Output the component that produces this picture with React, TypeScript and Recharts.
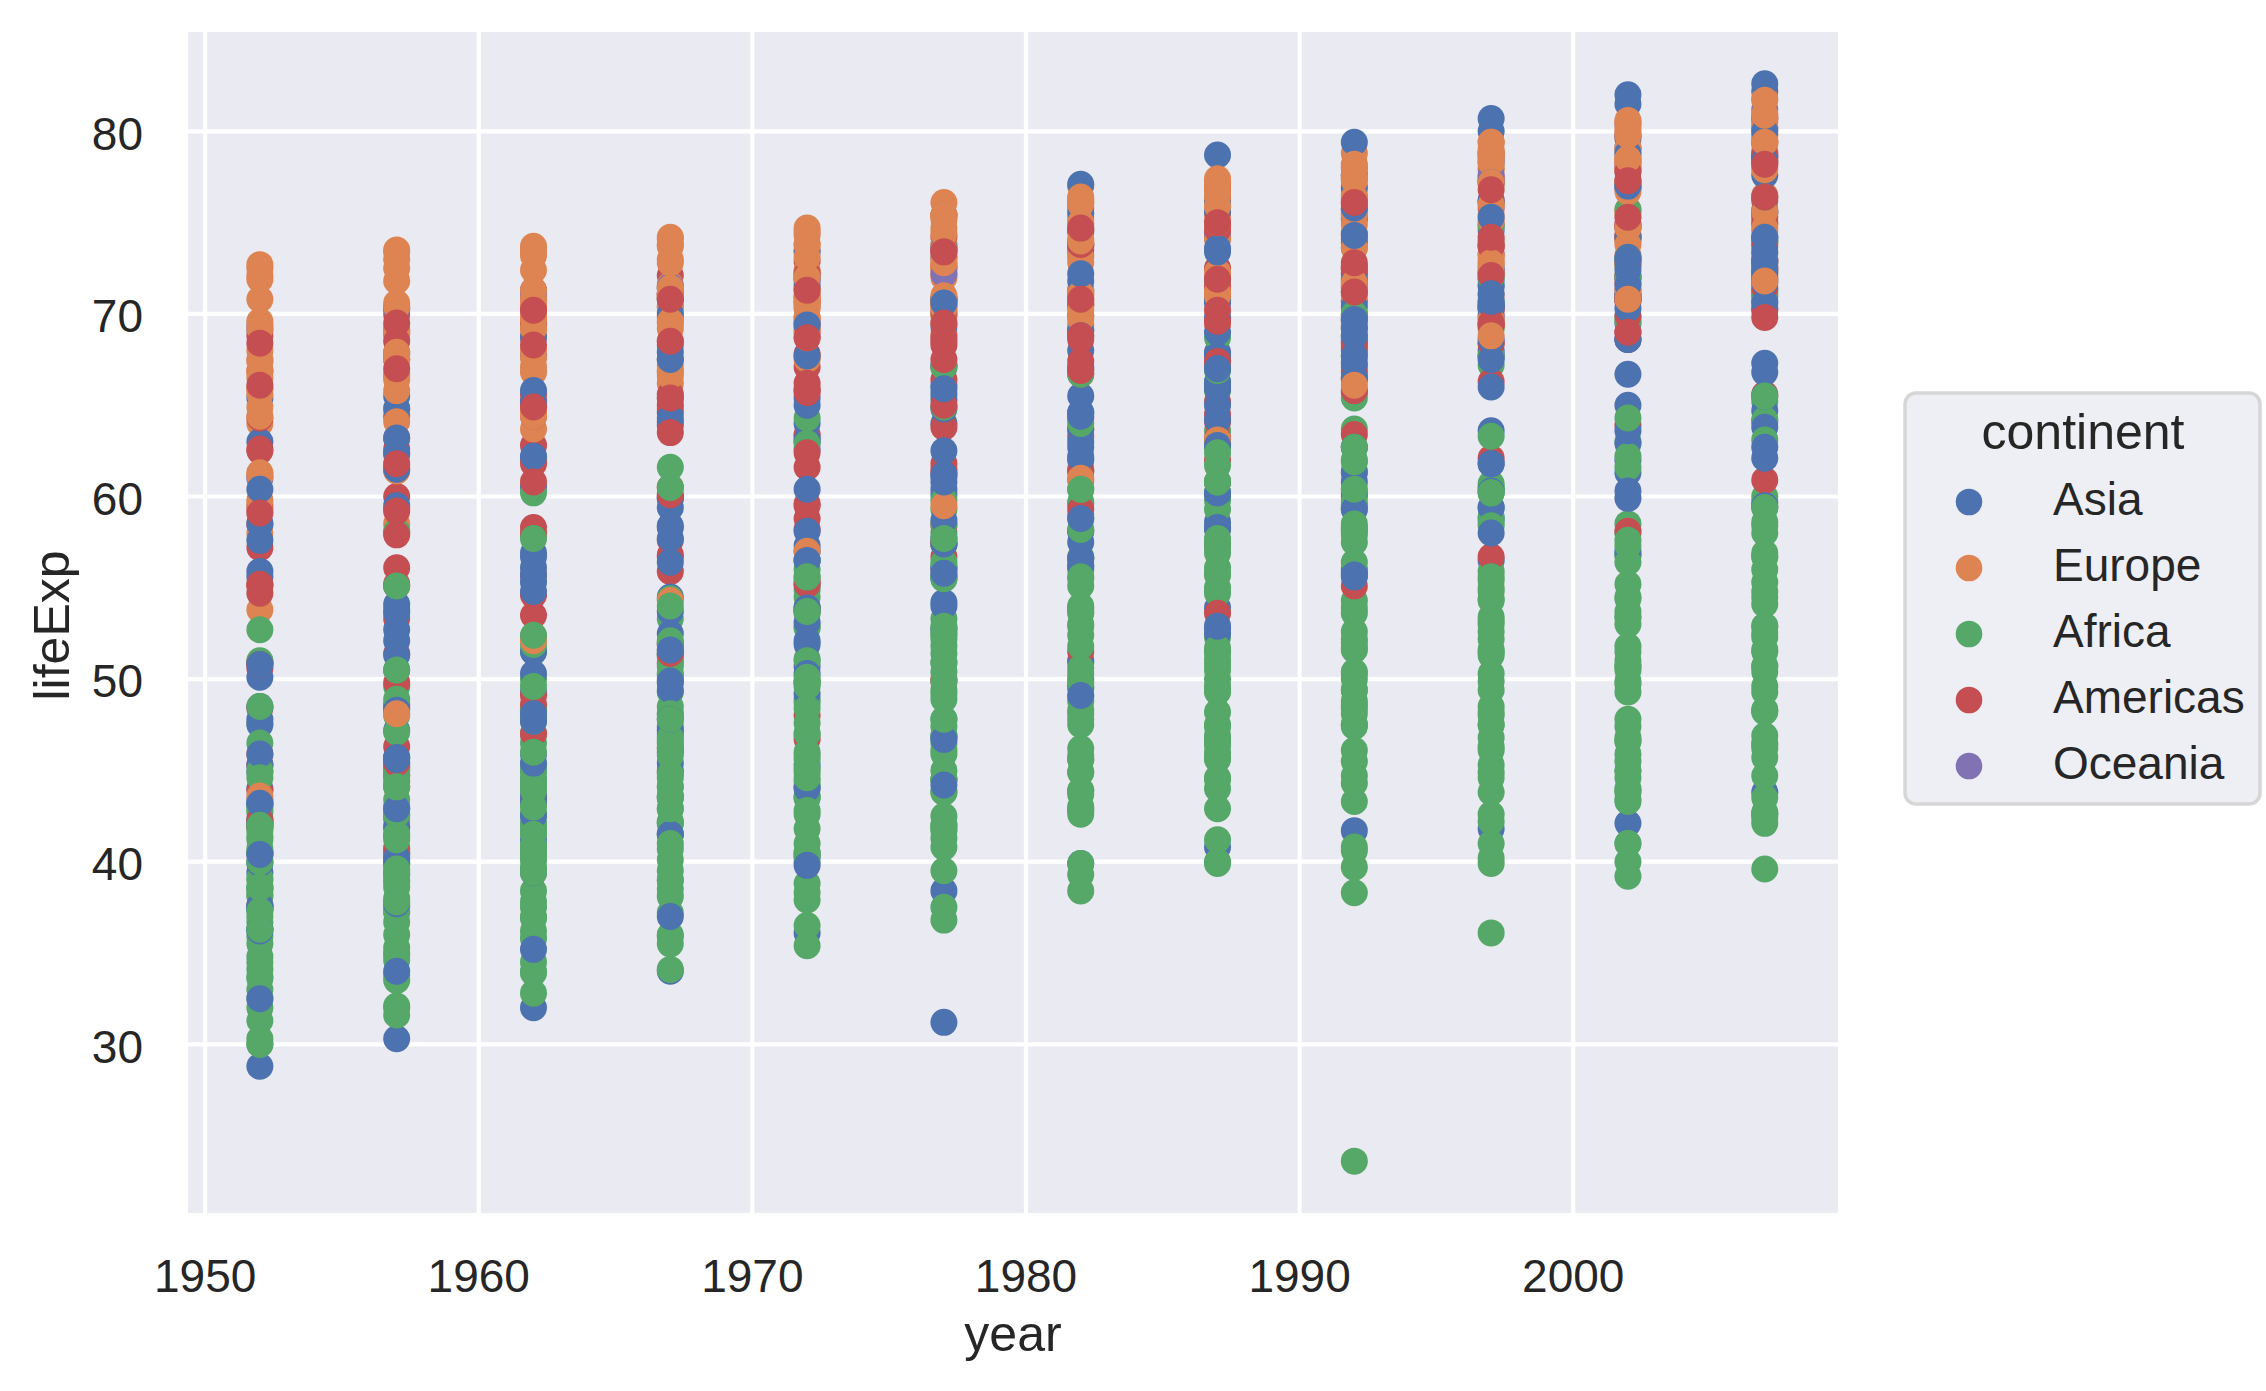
import { ScatterChart, Scatter, XAxis, YAxis, CartesianGrid } from 'recharts';

const FONT = 'Arial, "Liberation Sans", sans-serif';
const TEXT = '#262626';

const years = [1952, 1957, 1962, 1967, 1972, 1977, 1982, 1987, 1992, 1997, 2002, 2007];
const xTicks = [1950, 1960, 1970, 1980, 1990, 2000];
const yTicks = [30, 40, 50, 60, 70, 80];

type Row = [string, ...number[]];

const asia: Row[] = [
  ['Afghanistan', 28.8, 30.3, 32.0, 34.0, 36.1, 38.4, 39.9, 40.8, 41.7, 41.8, 42.1, 43.8],
  ['Bahrain', 50.9, 53.8, 56.9, 59.9, 63.3, 65.6, 69.1, 70.8, 72.6, 73.9, 74.8, 75.6],
  ['Bangladesh', 37.5, 39.3, 41.2, 43.5, 45.3, 46.9, 50.0, 52.8, 56.0, 59.4, 62.0, 64.1],
  ['Cambodia', 39.4, 41.4, 43.4, 45.4, 40.3, 31.2, 51.0, 53.9, 55.8, 56.5, 56.8, 59.7],
  ['China', 44.0, 50.5, 44.5, 58.4, 63.1, 64.0, 65.5, 67.3, 68.7, 70.4, 72.0, 73.0],
  ['Hong Kong, China', 61.0, 64.8, 67.7, 70.0, 72.0, 73.6, 75.5, 76.2, 77.6, 80.0, 81.5, 82.2],
  ['India', 37.4, 40.2, 43.6, 47.2, 50.7, 54.2, 56.6, 58.6, 60.2, 61.8, 62.9, 64.7],
  ['Indonesia', 37.5, 39.9, 42.5, 46.0, 49.2, 52.7, 56.2, 60.1, 62.7, 66.0, 68.6, 70.7],
  ['Iran', 44.9, 47.2, 49.3, 52.5, 55.2, 57.7, 59.6, 63.0, 65.7, 68.0, 69.5, 71.0],
  ['Iraq', 45.3, 48.4, 51.5, 54.5, 57.0, 60.4, 62.0, 65.0, 59.5, 58.8, 57.0, 59.5],
  ['Israel', 65.4, 67.8, 69.4, 70.8, 71.6, 73.1, 74.5, 75.6, 76.9, 78.3, 79.7, 80.7],
  ['Japan', 63.0, 65.5, 68.7, 71.4, 73.4, 75.4, 77.1, 78.7, 79.4, 80.7, 82.0, 82.6],
  ['Jordan', 43.2, 45.7, 48.1, 51.6, 56.5, 61.1, 63.7, 65.9, 68.0, 69.8, 71.3, 72.5],
  ['Korea, Dem. Rep.', 50.1, 54.1, 56.7, 59.9, 64.0, 67.2, 69.1, 70.6, 70.0, 67.7, 66.7, 67.3],
  ['Korea, Rep.', 47.5, 52.7, 55.3, 57.7, 62.6, 64.8, 67.1, 69.8, 72.2, 74.6, 77.0, 78.6],
  ['Kuwait', 55.6, 58.0, 60.5, 64.6, 67.7, 69.3, 71.3, 74.2, 75.2, 76.2, 76.9, 77.6],
  ['Lebanon', 55.9, 59.5, 62.1, 63.9, 65.4, 66.1, 67.0, 67.9, 69.3, 70.3, 71.0, 72.0],
  ['Malaysia', 48.5, 52.1, 55.7, 59.4, 63.0, 65.3, 68.0, 69.5, 70.7, 71.9, 73.0, 74.2],
  ['Mongolia', 42.2, 45.2, 48.3, 51.3, 53.8, 55.5, 57.5, 60.2, 61.3, 63.6, 65.0, 66.8],
  ['Myanmar', 36.3, 41.9, 45.1, 49.4, 53.1, 56.1, 58.1, 58.3, 59.3, 60.3, 59.9, 62.1],
  ['Nepal', 36.2, 37.7, 39.4, 41.5, 44.0, 46.7, 49.6, 52.5, 55.7, 59.4, 61.3, 63.8],
  ['Oman', 37.6, 40.1, 43.2, 47.0, 52.1, 57.4, 62.7, 67.7, 71.2, 72.5, 74.2, 75.6],
  ['Pakistan', 43.4, 45.6, 47.7, 49.8, 51.9, 54.0, 56.2, 58.2, 60.8, 61.8, 63.6, 65.5],
  ['Philippines', 47.8, 51.3, 54.8, 56.4, 58.1, 60.1, 62.1, 64.2, 66.5, 68.6, 70.3, 71.7],
  ['Saudi Arabia', 39.9, 42.9, 45.9, 49.9, 53.9, 58.7, 63.0, 66.3, 68.8, 70.5, 71.6, 72.8],
  ['Singapore', 60.4, 63.2, 65.8, 67.9, 69.5, 70.8, 71.8, 73.6, 75.8, 77.2, 78.8, 80.0],
  ['Sri Lanka', 57.6, 61.5, 62.2, 64.3, 65.0, 65.9, 68.8, 69.0, 70.4, 70.5, 70.8, 72.4],
  ['Syria', 45.9, 48.3, 50.3, 53.7, 57.3, 61.2, 64.6, 67.0, 69.2, 71.5, 73.1, 74.1],
  ['Taiwan', 58.5, 62.4, 65.2, 67.5, 69.4, 70.6, 72.2, 73.4, 74.3, 75.3, 77.0, 78.4],
  ['Thailand', 50.8, 53.6, 56.1, 58.3, 60.4, 62.5, 64.6, 66.1, 67.3, 67.5, 68.6, 70.6],
  ['Vietnam', 40.4, 42.9, 45.4, 47.8, 50.3, 55.8, 58.8, 62.8, 67.7, 70.7, 73.0, 74.2],
  ['West Bank and Gaza', 43.2, 45.7, 48.1, 51.6, 56.5, 60.8, 64.4, 67.0, 69.7, 71.1, 72.4, 73.4],
  ['Yemen, Rep.', 32.5, 34.0, 35.2, 37.0, 39.8, 44.2, 49.1, 52.9, 55.6, 58.0, 60.3, 62.7],
];

const europe: Row[] = [
  ['Albania', 55.2, 59.3, 64.8, 66.2, 67.7, 68.9, 70.4, 72.0, 71.6, 73.0, 75.7, 76.4],
  ['Austria', 66.8, 67.5, 69.5, 70.1, 70.6, 72.2, 73.2, 74.9, 76.0, 77.5, 79.0, 79.8],
  ['Belgium', 68.0, 69.2, 70.3, 70.9, 71.4, 72.8, 73.9, 75.4, 76.5, 77.5, 78.3, 79.4],
  ['Bosnia and Herzegovina', 53.8, 58.5, 61.9, 64.8, 67.5, 69.9, 70.7, 71.1, 72.2, 73.2, 74.1, 74.9],
  ['Bulgaria', 59.6, 66.6, 69.5, 70.4, 70.9, 70.8, 71.1, 71.3, 71.2, 70.3, 72.1, 73.0],
  ['Croatia', 61.2, 64.8, 67.1, 68.5, 69.6, 70.6, 70.5, 71.5, 72.5, 73.7, 74.9, 75.7],
  ['Czech Republic', 66.9, 69.0, 69.9, 70.4, 70.3, 70.7, 71.0, 71.6, 72.4, 74.0, 75.5, 76.5],
  ['Denmark', 70.8, 71.8, 72.4, 73.0, 73.5, 74.7, 74.6, 74.8, 75.3, 76.1, 77.2, 78.3],
  ['Finland', 66.5, 67.5, 68.8, 69.8, 70.9, 72.5, 74.6, 74.8, 75.7, 77.1, 78.4, 79.3],
  ['France', 67.4, 68.9, 70.5, 71.6, 72.4, 73.8, 74.9, 76.3, 77.5, 78.6, 79.6, 80.7],
  ['Germany', 67.5, 69.1, 70.3, 70.8, 71.0, 72.5, 73.8, 74.8, 76.1, 77.3, 78.7, 79.4],
  ['Greece', 65.9, 67.9, 69.5, 71.0, 72.3, 73.7, 75.2, 76.7, 77.0, 77.9, 78.3, 79.5],
  ['Hungary', 64.0, 66.4, 68.0, 69.5, 69.8, 70.0, 69.4, 69.6, 69.2, 71.0, 72.6, 73.3],
  ['Iceland', 72.5, 73.5, 73.7, 73.7, 74.5, 76.1, 77.0, 77.2, 78.8, 79.0, 80.5, 81.8],
  ['Ireland', 66.9, 68.9, 70.3, 71.1, 71.3, 72.0, 73.1, 74.4, 75.5, 76.1, 77.8, 78.9],
  ['Italy', 65.9, 67.8, 69.2, 71.1, 72.2, 73.5, 75.0, 76.4, 77.4, 78.8, 80.2, 80.5],
  ['Montenegro', 59.2, 61.4, 63.7, 67.2, 70.6, 73.1, 74.1, 74.9, 75.4, 75.4, 74.0, 74.5],
  ['Netherlands', 72.1, 73.0, 73.2, 73.8, 73.8, 75.2, 76.1, 76.8, 77.4, 78.0, 78.5, 79.8],
  ['Norway', 72.7, 73.4, 73.5, 74.1, 74.3, 75.4, 76.0, 75.9, 77.3, 78.3, 79.1, 80.2],
  ['Poland', 61.3, 65.8, 67.6, 69.6, 70.9, 70.7, 71.3, 71.0, 71.0, 72.8, 74.7, 75.6],
  ['Portugal', 59.8, 61.5, 64.4, 66.6, 69.3, 70.4, 72.8, 74.1, 74.9, 76.0, 77.3, 78.1],
  ['Romania', 61.1, 64.1, 66.8, 66.8, 69.2, 69.5, 69.7, 69.5, 69.4, 69.7, 71.3, 72.5],
  ['Serbia', 58.0, 61.7, 64.5, 66.9, 68.7, 70.3, 70.2, 71.2, 71.7, 72.2, 73.2, 74.0],
  ['Slovak Republic', 64.4, 67.5, 70.3, 71.0, 70.4, 70.5, 70.8, 71.1, 71.4, 72.7, 73.8, 74.7],
  ['Slovenia', 65.6, 67.9, 69.2, 69.2, 69.8, 71.0, 71.1, 72.3, 73.6, 75.1, 76.7, 77.9],
  ['Spain', 64.9, 66.7, 69.7, 71.4, 73.1, 74.4, 76.3, 76.9, 77.6, 78.8, 79.8, 80.9],
  ['Sweden', 71.9, 72.5, 73.4, 74.2, 74.7, 75.4, 76.4, 77.2, 78.2, 79.4, 80.0, 80.9],
  ['Switzerland', 69.6, 70.6, 71.3, 72.8, 73.8, 75.4, 76.2, 77.4, 78.0, 79.4, 80.6, 81.7],
  ['Turkey', 43.6, 48.1, 52.1, 54.3, 57.0, 59.5, 61.0, 63.1, 66.1, 68.8, 70.8, 71.8],
  ['United Kingdom', 69.2, 70.4, 70.8, 71.4, 72.0, 72.8, 74.0, 75.0, 76.4, 77.2, 78.5, 79.4],
];

const africa: Row[] = [
  ['Algeria', 43.1, 45.7, 48.3, 51.4, 54.5, 58.0, 61.4, 65.8, 67.7, 69.2, 71.0, 72.3],
  ['Angola', 30.0, 32.0, 34.0, 36.0, 37.9, 39.5, 39.9, 39.9, 40.6, 41.0, 41.0, 42.7],
  ['Benin', 38.2, 40.4, 42.6, 44.9, 47.0, 49.2, 50.9, 52.3, 53.9, 54.8, 54.4, 56.7],
  ['Botswana', 47.6, 49.6, 51.5, 53.3, 56.0, 59.3, 61.5, 63.6, 62.7, 52.6, 46.6, 50.7],
  ['Burkina Faso', 32.0, 34.9, 37.8, 40.7, 43.6, 46.1, 48.1, 49.6, 50.3, 50.3, 50.7, 52.3],
  ['Burundi', 39.0, 40.5, 42.0, 43.5, 44.1, 45.9, 47.5, 48.2, 44.7, 45.3, 47.4, 49.6],
  ['Cameroon', 38.5, 40.4, 42.6, 44.8, 47.0, 49.4, 53.0, 55.0, 54.3, 52.2, 49.9, 50.4],
  ['Central African Republic', 35.5, 37.5, 39.5, 41.5, 43.5, 46.8, 48.3, 50.5, 49.4, 46.1, 43.3, 44.7],
  ['Chad', 38.1, 39.9, 41.7, 43.6, 45.6, 47.4, 49.5, 51.1, 51.7, 51.6, 50.5, 50.7],
  ['Comoros', 40.7, 42.5, 44.5, 46.5, 48.9, 50.9, 52.9, 54.9, 57.9, 60.7, 63.0, 65.2],
  ['Congo, Dem. Rep.', 39.1, 40.7, 42.1, 44.1, 46.0, 47.8, 47.8, 47.4, 45.5, 42.6, 45.0, 46.5],
  ['Congo, Rep.', 42.1, 45.1, 48.4, 52.0, 54.9, 55.6, 56.7, 57.5, 56.4, 53.0, 53.0, 55.3],
  ["Cote d'Ivoire", 40.5, 42.5, 44.9, 47.4, 49.8, 52.4, 54.0, 54.7, 52.0, 48.0, 46.8, 48.3],
  ['Djibouti', 34.8, 37.3, 39.7, 42.1, 44.4, 46.5, 48.8, 50.0, 51.6, 53.2, 53.4, 54.8],
  ['Egypt', 41.9, 44.4, 47.0, 49.3, 51.1, 53.3, 56.0, 59.8, 63.7, 67.2, 69.8, 71.3],
  ['Equatorial Guinea', 34.5, 36.0, 37.5, 39.0, 40.5, 42.0, 43.7, 45.7, 47.5, 48.2, 49.3, 51.6],
  ['Eritrea', 35.9, 38.0, 40.2, 42.2, 44.1, 44.5, 43.9, 46.5, 50.0, 53.4, 55.2, 58.0],
  ['Ethiopia', 34.1, 36.7, 40.1, 42.1, 43.5, 44.5, 44.9, 46.7, 48.1, 49.4, 50.7, 52.9],
  ['Gabon', 37.0, 39.0, 40.5, 44.6, 48.7, 52.8, 56.6, 60.2, 61.4, 60.5, 56.8, 56.7],
  ['Gambia', 30.0, 32.1, 33.9, 35.9, 38.3, 41.8, 45.6, 49.3, 52.6, 55.9, 58.0, 59.4],
  ['Ghana', 43.1, 44.8, 46.5, 48.1, 49.9, 51.8, 53.7, 55.7, 57.5, 58.6, 58.5, 60.0],
  ['Guinea', 33.6, 34.6, 35.8, 37.2, 38.8, 40.8, 42.9, 45.6, 48.6, 51.5, 53.7, 56.0],
  ['Guinea-Bissau', 32.5, 33.5, 34.5, 35.5, 36.5, 37.5, 39.3, 41.2, 43.3, 44.9, 45.5, 46.4],
  ['Kenya', 42.3, 44.7, 47.9, 50.7, 53.6, 56.2, 58.8, 59.3, 59.3, 54.4, 51.0, 54.1],
  ['Lesotho', 42.1, 45.0, 47.7, 48.5, 49.8, 52.2, 55.1, 57.2, 59.7, 55.6, 44.6, 42.6],
  ['Liberia', 38.5, 39.5, 40.5, 41.5, 42.6, 43.8, 44.9, 46.0, 40.8, 42.2, 43.8, 45.7],
  ['Libya', 42.7, 45.3, 47.8, 50.2, 52.8, 57.4, 62.2, 66.2, 68.8, 71.6, 72.7, 74.0],
  ['Madagascar', 36.7, 38.9, 40.8, 42.9, 44.9, 46.9, 49.0, 49.4, 52.2, 55.0, 57.3, 59.4],
  ['Malawi', 36.3, 37.2, 38.4, 39.5, 41.8, 43.8, 45.6, 47.5, 49.4, 47.5, 45.0, 48.3],
  ['Mali', 33.7, 35.3, 36.9, 38.5, 40.0, 41.7, 43.9, 46.4, 48.4, 49.9, 51.8, 54.5],
  ['Mauritania', 40.5, 42.3, 44.2, 46.3, 48.4, 50.9, 53.6, 56.1, 58.3, 60.4, 62.2, 64.2],
  ['Mauritius', 51.0, 58.1, 60.2, 61.6, 62.9, 64.9, 66.7, 68.7, 69.7, 70.7, 72.0, 72.8],
  ['Morocco', 42.9, 45.4, 47.9, 50.3, 52.9, 55.7, 59.7, 62.7, 65.4, 67.7, 69.6, 71.2],
  ['Mozambique', 31.3, 33.8, 36.2, 38.1, 40.3, 42.5, 42.8, 42.9, 44.3, 46.3, 44.0, 42.1],
  ['Namibia', 41.7, 45.2, 48.4, 51.2, 53.9, 56.4, 59.0, 60.8, 62.0, 58.9, 51.5, 52.9],
  ['Niger', 37.4, 38.6, 39.5, 40.1, 40.5, 41.3, 42.6, 44.6, 47.4, 51.3, 54.5, 56.9],
  ['Nigeria', 36.3, 37.8, 39.4, 41.0, 42.8, 44.5, 45.8, 46.9, 47.5, 47.5, 46.6, 46.9],
  ['Reunion', 52.7, 55.1, 57.7, 60.5, 64.3, 67.1, 69.9, 71.9, 73.6, 74.8, 75.7, 76.4],
  ['Rwanda', 40.0, 41.5, 43.0, 44.1, 44.6, 45.0, 46.2, 44.0, 23.6, 36.1, 43.4, 46.2],
  ['Sao Tome and Principe', 46.5, 48.9, 51.9, 54.4, 56.5, 58.5, 60.4, 61.7, 62.7, 63.3, 64.3, 65.5],
  ['Senegal', 37.3, 39.3, 41.5, 43.6, 45.8, 48.9, 52.4, 55.8, 58.2, 60.2, 61.6, 63.1],
  ['Sierra Leone', 30.3, 31.6, 32.8, 34.1, 35.4, 36.8, 38.4, 40.0, 38.3, 39.9, 41.0, 42.6],
  ['Somalia', 33.0, 35.0, 37.0, 39.0, 41.0, 42.0, 43.0, 44.5, 39.7, 43.8, 45.9, 48.2],
  ['South Africa', 45.0, 48.0, 50.0, 51.9, 53.7, 55.5, 58.2, 60.8, 61.9, 60.2, 53.4, 49.3],
  ['Sudan', 38.6, 39.6, 40.9, 42.9, 45.1, 47.8, 50.3, 51.7, 53.6, 55.4, 56.4, 58.6],
  ['Swaziland', 41.4, 43.4, 45.0, 46.6, 49.6, 52.5, 55.6, 57.7, 58.5, 54.3, 43.9, 39.6],
  ['Tanzania', 41.2, 43.0, 44.2, 45.8, 47.6, 49.9, 50.6, 51.5, 50.4, 48.5, 49.7, 52.5],
  ['Togo', 38.6, 41.2, 43.9, 46.8, 49.8, 52.9, 55.5, 56.9, 58.1, 58.4, 57.6, 58.4],
  ['Tunisia', 44.6, 47.1, 49.6, 52.1, 55.6, 59.8, 64.0, 66.9, 70.0, 72.0, 73.0, 73.9],
  ['Uganda', 40.0, 42.6, 45.3, 48.1, 51.0, 50.4, 49.8, 51.5, 48.8, 44.6, 47.8, 51.5],
  ['Zambia', 42.0, 44.1, 46.0, 47.8, 50.1, 51.4, 51.8, 50.8, 46.1, 40.2, 39.2, 42.4],
  ['Zimbabwe', 48.5, 50.5, 52.4, 54.0, 55.6, 57.7, 60.4, 62.4, 60.4, 46.8, 40.0, 43.5],
];

const americas: Row[] = [
  ['Argentina', 62.5, 64.4, 65.1, 65.6, 67.1, 68.5, 69.9, 70.8, 71.9, 73.3, 74.3, 75.3],
  ['Bolivia', 40.4, 41.9, 43.4, 45.0, 46.7, 50.0, 53.9, 57.3, 60.0, 62.1, 63.9, 65.6],
  ['Brazil', 50.9, 53.3, 55.7, 57.6, 59.5, 61.5, 63.3, 65.2, 67.1, 69.4, 71.0, 72.4],
  ['Canada', 68.8, 70.0, 71.3, 72.1, 72.9, 74.2, 75.8, 76.9, 78.0, 78.6, 79.8, 80.7],
  ['Chile', 54.7, 56.1, 57.9, 60.5, 63.4, 67.1, 70.6, 72.5, 74.1, 75.8, 77.9, 78.6],
  ['Colombia', 50.6, 55.1, 57.9, 60.0, 61.6, 63.8, 66.7, 67.8, 68.4, 70.3, 71.7, 72.9],
  ['Costa Rica', 57.2, 60.0, 62.8, 65.4, 67.8, 70.8, 73.5, 74.8, 75.7, 77.3, 78.1, 78.8],
  ['Cuba', 59.4, 62.3, 65.2, 68.3, 70.7, 72.6, 73.7, 74.2, 74.4, 76.2, 77.2, 78.3],
  ['Dominican Republic', 45.9, 49.8, 53.5, 56.8, 59.6, 61.8, 63.7, 66.0, 68.5, 70.0, 70.8, 72.2],
  ['Ecuador', 48.4, 51.4, 54.6, 56.7, 58.8, 61.3, 64.3, 67.2, 69.6, 72.3, 74.2, 75.0],
  ['El Salvador', 45.3, 48.6, 52.3, 55.9, 58.2, 56.7, 56.6, 63.2, 66.8, 69.5, 70.7, 71.9],
  ['Guatemala', 42.0, 44.1, 47.0, 50.0, 53.7, 56.0, 58.1, 60.8, 63.4, 66.3, 69.0, 70.3],
  ['Haiti', 37.6, 40.7, 43.6, 46.2, 48.0, 49.9, 51.5, 53.6, 55.1, 56.7, 58.1, 60.9],
  ['Honduras', 41.9, 44.7, 48.0, 50.9, 53.9, 57.4, 60.9, 64.5, 66.4, 67.7, 68.6, 70.2],
  ['Jamaica', 58.5, 62.6, 65.6, 67.5, 69.0, 70.1, 71.2, 71.8, 71.8, 72.3, 72.0, 72.6],
  ['Mexico', 50.8, 55.2, 58.3, 60.1, 62.4, 65.0, 67.4, 69.5, 71.5, 73.7, 74.9, 76.2],
  ['Nicaragua', 42.3, 45.4, 48.6, 51.9, 55.2, 57.5, 59.3, 62.0, 65.8, 68.4, 70.8, 72.9],
  ['Panama', 55.2, 59.2, 61.8, 64.1, 66.2, 68.7, 70.5, 71.5, 72.5, 73.7, 74.7, 75.5],
  ['Paraguay', 62.6, 63.2, 64.4, 65.0, 65.8, 66.4, 66.9, 67.4, 68.2, 69.4, 70.8, 71.8],
  ['Peru', 43.9, 46.3, 49.1, 51.4, 55.4, 58.4, 61.4, 64.1, 66.5, 68.4, 69.9, 71.4],
  ['Puerto Rico', 64.3, 68.5, 69.6, 71.1, 72.2, 73.4, 73.8, 74.6, 73.9, 74.9, 77.8, 78.7],
  ['Trinidad and Tobago', 59.1, 61.8, 64.9, 65.4, 65.9, 68.3, 68.8, 69.6, 69.9, 69.5, 69.0, 69.8],
  ['United States', 68.4, 69.5, 70.2, 70.8, 71.3, 73.4, 74.7, 75.0, 76.1, 76.8, 77.3, 78.2],
  ['Uruguay', 66.1, 67.0, 68.3, 68.5, 68.7, 69.5, 70.8, 71.9, 72.8, 74.2, 75.3, 76.4],
  ['Venezuela', 55.1, 57.9, 60.8, 63.5, 65.7, 67.5, 68.6, 70.2, 71.2, 72.1, 72.8, 73.7],
];

const oceania: Row[] = [
  ['Australia', 69.1, 70.3, 70.9, 71.1, 71.9, 73.5, 74.7, 76.3, 77.6, 78.8, 80.4, 81.2],
  ['New Zealand', 69.4, 70.3, 71.2, 71.5, 71.9, 72.2, 73.8, 74.3, 76.3, 77.6, 79.1, 80.2],
];

const continents = ['Asia', 'Europe', 'Africa', 'Americas', 'Oceania'];
const colors = ['#4c72b0', '#dd8452', '#55a868', '#c44e52', '#8172b3'];

// countries are plotted in alphabetical order, like the source table
const countries = [asia, europe, africa, americas, oceania]
  .flatMap((list, i) => list.map((r) => ({ name: r[0], color: colors[i], values: r.slice(1) as number[] })))
  .sort((a, b) => (a.name < b.name ? -1 : a.name > b.name ? 1 : 0));

const points = countries.flatMap((c) =>
  c.values.map((v, j) => ({ year: years[j], lifeExp: v, color: c.color }))
);

const Dot = (props: any) => (
  <circle cx={props.cx} cy={props.cy} r={13.5} fill={props.payload.color} />
);

const XLabel = ({ viewBox }: any) => (
  <text x={viewBox.x + viewBox.width / 2} y={viewBox.y + 136} textAnchor="middle"
    fontSize={50} fill={TEXT} fontFamily={FONT}>year</text>
);

const YLabel = ({ viewBox }: any) => {
  const x = 69;
  const y = viewBox.y + viewBox.height / 2 + 3;
  return (
    <text x={x} y={y} transform={`rotate(-90 ${x} ${y})`} textAnchor="middle"
      fontSize={50} fill={TEXT} fontFamily={FONT}>lifeExp</text>
  );
};

function ContinentLegend() {
  return (
    <svg width={362} height={420} style={{ position: 'absolute', left: 1902, top: 390 }}>
      <rect x={3} y={3} width={355} height={411} rx={11} ry={11}
        fill="#eeeef5" stroke="#d6d6d6" strokeWidth={3.5} />
      <text x={181} y={59} textAnchor="middle" fontSize={50} fill={TEXT} fontFamily={FONT}>continent</text>
      {continents.map((name, i) => (
        <g key={name}>
          <circle cx={67} cy={112 + i * 66} r={13.3} fill={colors[i]} />
          <text x={151} y={125 + i * 66} fontSize={46} fill={TEXT} fontFamily={FONT}>{name}</text>
        </g>
      ))}
    </svg>
  );
}

export default function App() {
  return (
    <div style={{ position: 'absolute', left: 0, top: 0, width: 2266, height: 1391, background: '#fff' }}>
      <ScatterChart width={2266} height={1391} margin={{ top: 30, right: 426, bottom: 0, left: 0 }}>
        <CartesianGrid fill="#eaeaf2" stroke="#ffffff" strokeWidth={4.2} />
        <XAxis
          type="number"
          dataKey="year"
          scale="linear"
          domain={[1949.3, 2009.75]}
          ticks={xTicks}
          height={176}
          axisLine={false}
          tickLine={false}
          tickSize={0}
          tickMargin={44}
          tick={{ fill: TEXT, fontSize: 46, fontFamily: FONT }}
          label={XLabel}
        />
        <YAxis
          type="number"
          dataKey="lifeExp"
          scale="linear"
          domain={[20.65, 85.55]}
          ticks={yTicks}
          width={186}
          axisLine={false}
          tickLine={false}
          tickSize={0}
          tickMargin={43}
          tick={{ fill: TEXT, fontSize: 46, fontFamily: FONT, dy: 2 }}
          label={YLabel}
        />
        <Scatter data={points} shape={Dot} isAnimationActive={false} />
      </ScatterChart>
      <ContinentLegend />
    </div>
  );
}
